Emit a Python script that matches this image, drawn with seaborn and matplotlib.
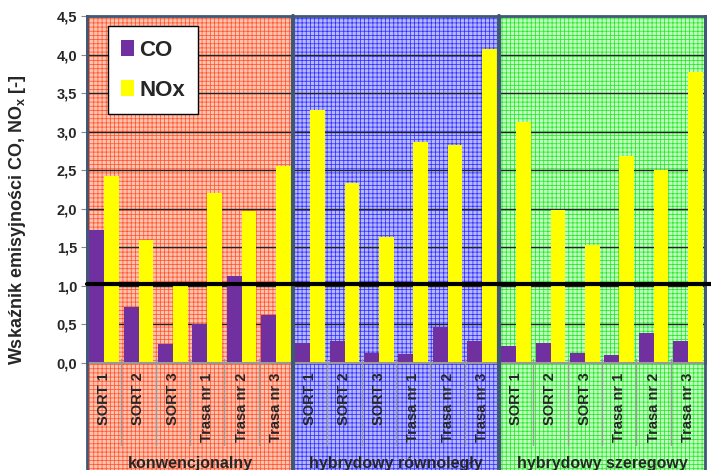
import numpy as np
import matplotlib
matplotlib.use("Agg")
import matplotlib.pyplot as plt
import matplotlib.transforms as mtransforms
from matplotlib.patches import Rectangle
import pandas as pd
import seaborn as sns

# dane
grupy = ["konwencjonalny", "hybrydowy równoległy", "hybrydowy szeregowy"]
testy = ["SORT 1", "SORT 2", "SORT 3", "Trasa nr 1", "Trasa nr 2", "Trasa nr 3"]
co = [1.72, 0.73, 0.25, 0.51, 1.13, 0.62,
      0.26, 0.28, 0.13, 0.12, 0.47, 0.29,
      0.22, 0.26, 0.13, 0.10, 0.39, 0.28]
nox = [2.43, 1.59, 1.01, 2.20, 1.97, 2.56,
       3.28, 2.33, 1.64, 2.86, 2.83, 4.07,
       3.12, 1.98, 1.53, 2.68, 2.50, 3.77]
poziom_odniesienia = 1.02

kolory_tla = [("#ffc4b0", "#ff5530"), ("#b8b8ff", "#3030ff"), ("#c2ffc2", "#28e628")]

sns.set_style("white")
plt.rcParams["font.family"] = ["Liberation Sans", "DejaVu Sans"]
plt.rcParams["font.weight"] = "bold"
plt.rcParams["mathtext.fontset"] = "custom"
plt.rcParams["mathtext.rm"] = "Liberation Sans:bold"
plt.rcParams["mathtext.default"] = "rm"
plt.rcParams["hatch.linewidth"] = 0.55

pozycje = [f"{g}|{t}" for g in grupy for t in testy]
df = pd.DataFrame({
    "poz": pozycje * 2,
    "seria": ["CO"] * len(pozycje) + ["NOx"] * len(pozycje),
    "wartosc": co + nox,
})

fig = plt.figure(figsize=(7.11, 4.70), dpi=100)
ax = fig.add_axes([87 / 711, 107 / 470, 618 / 711, 347 / 470])
ax.set_facecolor("none")

sns.barplot(data=df, x="poz", y="wartosc", hue="seria", order=pozycje,
            palette={"CO": "#7030a0", "NOx": "#ffff00"}, width=0.86, gap=0,
            saturation=1, linewidth=0, ax=ax, zorder=2)

n = len(testy)
ax.set_xlim(-0.5, len(pozycje) - 0.5)
ax.set_ylim(0, 4.5)

# tlo grup (także pod etykietami osi)
tr = mtransforms.blended_transform_factory(ax.transData, ax.transAxes)
for i, (baza, linia) in enumerate(kolory_tla):
    x0 = i * n - 0.5
    ax.add_patch(Rectangle((x0, -0.4), n, 1.4, transform=tr, facecolor=baza,
                           edgecolor=linia, hatch="++++", linewidth=0,
                           clip_on=False, zorder=0))
for i in range(len(grupy) + 1):
    ax.plot([i * n - 0.5] * 2, [-0.4, 1.0], transform=tr, color="#3f5878",
            lw=3 if 0 < i < len(grupy) else 2, clip_on=False, zorder=3)
# separatory kategorii pod osią
for k in range(len(pozycje) - 1):
    if (k + 1) % n:
        ax.plot([k + 0.5] * 2, [0.012, -0.235], transform=tr, color="#999999",
                lw=1, clip_on=False, zorder=1)

for y in np.arange(0.5, 4.5, 0.5):
    ax.axhline(y, color="#222222", lw=1, zorder=1)
ax.plot([-0.5, len(pozycje) + 0.5], [poziom_odniesienia] * 2, color="black",
        lw=3, clip_on=False, zorder=4)

ax.set_yticks(np.arange(0, 4.51, 0.5))
ax.set_yticklabels([f"{v:.1f}".replace(".", ",") for v in np.arange(0, 4.51, 0.5)],
                   fontsize=10.5, fontweight="bold")
ax.tick_params(axis="y", length=4, color="#888888", pad=3, left=True)
ax.set_xticks(range(len(pozycje)))
ax.set_xticklabels(testy * len(grupy), rotation=90, fontsize=10.5, fontweight="bold")
ax.tick_params(axis="x", length=0, pad=7)
ax.set_xlabel("")
ax.set_ylabel("")

for s in ["top", "right", "left"]:
    ax.spines[s].set_color("#3f5878")
    ax.spines[s].set_linewidth(2)
ax.spines["bottom"].set_color("#999999")
ax.spines["bottom"].set_linewidth(1.5)

for i, g in enumerate(grupy):
    ax.text(i * n + (n - 1) / 2, -0.29, g, transform=tr, ha="center",
            va="center", fontsize=11.5, fontweight="bold", clip_on=False)

fig.text(18 / 711, 250 / 470, "Wskaźnik emisyjności CO, NO$_x$ [-]",
         rotation=90, ha="center", va="center", fontsize=13, fontweight="bold")

leg = ax.legend(loc="upper left", bbox_to_anchor=(0.034, 0.97),
                prop={"weight": "bold", "size": 16}, frameon=True, fancybox=False,
                edgecolor="black", framealpha=1, handlelength=0.55,
                handleheight=0.75, handletextpad=0.25, labelspacing=0.85,
                borderpad=0.6, borderaxespad=0)
leg.get_frame().set_linewidth(1)
leg.set_zorder(5)

fig.savefig("out.png", dpi=100)
